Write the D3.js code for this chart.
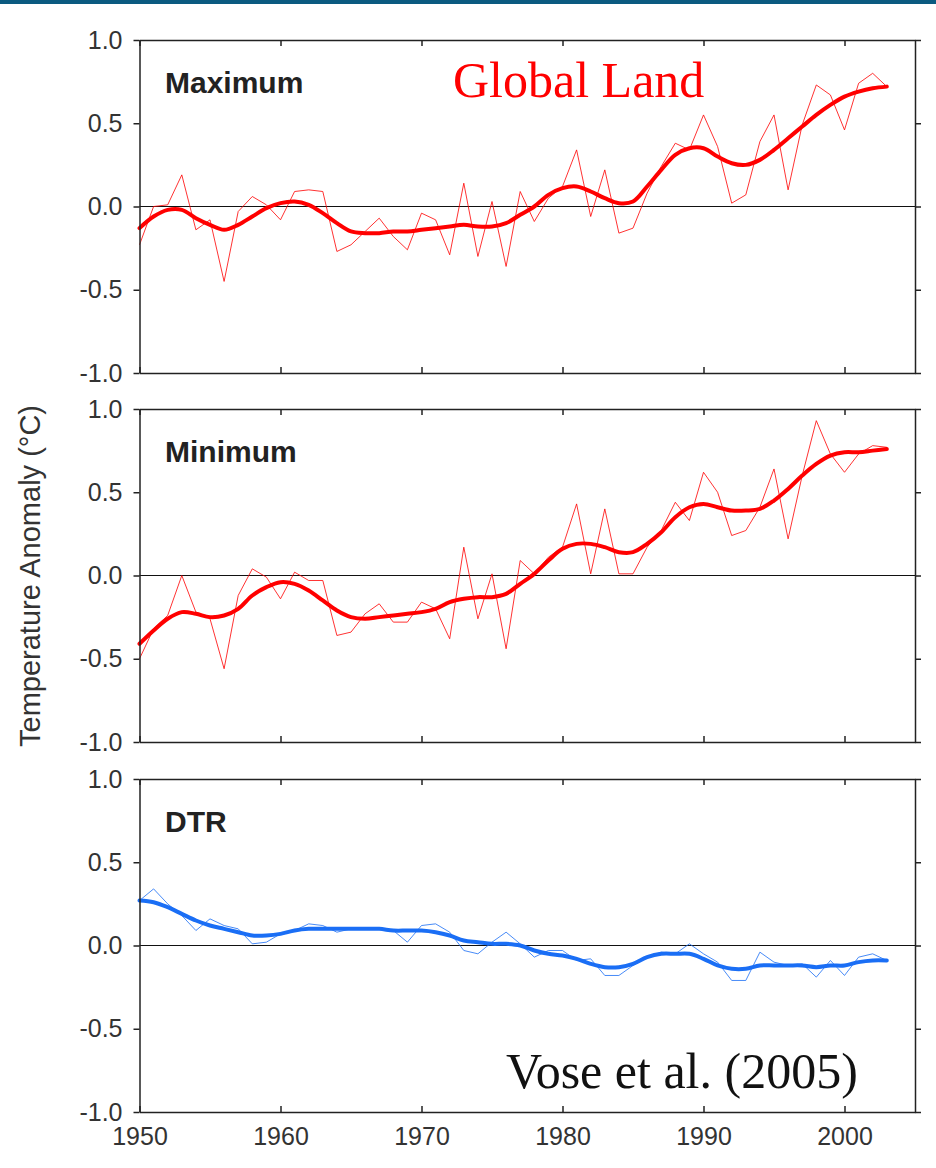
<!DOCTYPE html>
<html>
<head>
<meta charset="utf-8">
<script src="https://cdn.jsdelivr.net/npm/d3@7"></script>
<style>
  body { margin: 0; background: #fff; }
  svg { display: block; }
</style>
</head>
<body>
<div id="chart"></div>
<script>
// years 1950..2003
var years = d3.range(1950, 2004);

// Maximum temperature anomaly (annual + smoothed)
var maxAnnual = [-0.23, 0.00, 0.01, 0.19, -0.14, -0.08, -0.45, -0.03, 0.06, 0.01,
  -0.08, 0.09, 0.10, 0.09, -0.27, -0.23, -0.15, -0.07, -0.18, -0.26,
  -0.04, -0.08, -0.29, 0.14, -0.30, 0.03, -0.36, 0.09, -0.09, 0.05,
  0.12, 0.34, -0.06, 0.22, -0.16, -0.13, 0.08, 0.24, 0.38, 0.34,
  0.55, 0.36, 0.02, 0.07, 0.39, 0.55, 0.10, 0.49, 0.73, 0.67,
  0.46, 0.74, 0.80, 0.72];
var maxSmooth = [-0.13, -0.06, -0.02, -0.02, -0.07, -0.11, -0.14, -0.11, -0.06, -0.01,
  0.02, 0.03, 0.01, -0.04, -0.10, -0.15, -0.16, -0.16, -0.15, -0.15,
  -0.14, -0.13, -0.12, -0.11, -0.12, -0.12, -0.10, -0.05, 0.00, 0.07,
  0.11, 0.12, 0.09, 0.05, 0.02, 0.03, 0.12, 0.22, 0.31, 0.35,
  0.35, 0.30, 0.26, 0.25, 0.28, 0.34, 0.41, 0.48, 0.55, 0.61,
  0.66, 0.69, 0.71, 0.72];

// Minimum temperature anomaly
var minAnnual = [-0.50, -0.32, -0.24, 0.00, -0.22, -0.26, -0.56, -0.12, 0.04, -0.01,
  -0.14, 0.02, -0.03, -0.03, -0.36, -0.34, -0.23, -0.17, -0.28, -0.28,
  -0.16, -0.20, -0.38, 0.17, -0.26, 0.01, -0.44, 0.09, 0.01, 0.11,
  0.17, 0.43, 0.01, 0.40, 0.01, 0.01, 0.17, 0.27, 0.44, 0.33,
  0.62, 0.50, 0.24, 0.27, 0.41, 0.64, 0.22, 0.60, 0.93, 0.73,
  0.62, 0.73, 0.78, 0.77];
var minSmooth = [-0.41, -0.33, -0.26, -0.22, -0.23, -0.25, -0.24, -0.20, -0.12, -0.07,
  -0.04, -0.05, -0.09, -0.15, -0.21, -0.25, -0.26, -0.25, -0.24, -0.23,
  -0.22, -0.20, -0.16, -0.14, -0.13, -0.13, -0.11, -0.05, 0.01, 0.09,
  0.16, 0.19, 0.19, 0.17, 0.14, 0.14, 0.19, 0.26, 0.35, 0.41,
  0.43, 0.41, 0.39, 0.39, 0.40, 0.45, 0.52, 0.60, 0.67, 0.72,
  0.74, 0.74, 0.75, 0.76];

// Diurnal temperature range
var dtrAnnual = [0.27, 0.34, 0.25, 0.18, 0.09, 0.16, 0.12, 0.10, 0.01, 0.02,
  0.07, 0.09, 0.13, 0.12, 0.08, 0.10, 0.10, 0.10, 0.09, 0.02,
  0.12, 0.13, 0.08, -0.03, -0.05, 0.02, 0.08, 0.01, -0.07, -0.03,
  -0.03, -0.09, -0.08, -0.18, -0.18, -0.12, -0.07, -0.04, -0.05, 0.01,
  -0.05, -0.10, -0.21, -0.21, -0.04, -0.10, -0.12, -0.11, -0.19, -0.09,
  -0.18, -0.07, -0.05, -0.09];
var dtrSmooth = [0.27, 0.26, 0.23, 0.19, 0.15, 0.12, 0.10, 0.08, 0.06, 0.06,
  0.07, 0.09, 0.10, 0.10, 0.10, 0.10, 0.10, 0.10, 0.09, 0.09,
  0.09, 0.08, 0.06, 0.03, 0.02, 0.01, 0.01, 0.00, -0.03, -0.05,
  -0.06, -0.08, -0.11, -0.13, -0.13, -0.11, -0.07, -0.05, -0.05, -0.05,
  -0.08, -0.12, -0.14, -0.14, -0.12, -0.12, -0.12, -0.12, -0.13, -0.12,
  -0.12, -0.10, -0.09, -0.09];

var yTicks = [-1.0, -0.5, 0.0, 0.5, 1.0];
var xTicks = [1950, 1960, 1970, 1980, 1990, 2000];

var W = 936, H = 1168;
var panelH = 333;

var svg = d3.select("#chart").append("svg")
  .attr("width", W).attr("height", H);

// thin bar at the very top
svg.append("rect").attr("x", 0).attr("y", 0).attr("width", W).attr("height", 4)
  .attr("fill", "#0b5a80");

var x = d3.scaleLinear().domain([1950, 2005]).range([139.5, 915]);

var panels = [
  {name: "Maximum", top: 40, annual: maxAnnual, smooth: maxSmooth, color: "#ff0000"},
  {name: "Minimum", top: 409, annual: minAnnual, smooth: minSmooth, color: "#ff0000"},
  {name: "DTR", top: 779, annual: dtrAnnual, smooth: dtrSmooth, color: "#1a6ef5"}
];

var fmt = function(d) { return d3.format(".1f")(d).replace("\u2212", "-"); };

panels.forEach(function(p, pi) {
  var y = d3.scaleLinear().domain([-1, 1]).range([p.top + panelH, p.top]);
  var g = svg.append("g");

  // zero line
  g.append("line")
    .attr("x1", x.range()[0]).attr("x2", x.range()[1])
    .attr("y1", y(0)).attr("y2", y(0))
    .attr("stroke", "#111").attr("stroke-width", 1.2);

  var lineA = d3.line().x((d, i) => x(years[i])).y(d => y(d));
  var lineS = d3.line().x((d, i) => x(years[i])).y(d => y(d)).curve(d3.curveCatmullRom);

  g.append("path").datum(p.annual)
    .attr("d", lineA).attr("fill", "none")
    .attr("stroke", p.color).attr("stroke-width", 1).attr("opacity", 0.8);
  g.append("path").datum(p.smooth)
    .attr("d", lineS).attr("fill", "none")
    .attr("stroke", p.color).attr("stroke-width", 4)
    .attr("stroke-linejoin", "round").attr("stroke-linecap", "round");

  // axes (frame)
  g.append("g").attr("class", "axis")
    .attr("transform", "translate(" + x.range()[0] + ",0)")
    .call(d3.axisLeft(y).tickValues(yTicks).tickFormat(fmt).tickSizeInner(6).tickSizeOuter(0).tickPadding(11));
  g.append("g").attr("class", "axis")
    .attr("transform", "translate(" + x.range()[1] + ",0)")
    .call(d3.axisRight(y).tickValues(yTicks).tickFormat("").tickSizeInner(6).tickSizeOuter(0));
  g.append("g").attr("class", "axis")
    .attr("transform", "translate(0," + p.top + ")")
    .call(d3.axisTop(x).tickValues(xTicks).tickFormat("").tickSizeInner(-6).tickSizeOuter(0));
  g.append("g").attr("class", "axis")
    .attr("transform", "translate(0," + (p.top + panelH) + ")")
    .call(d3.axisBottom(x).tickValues(xTicks).tickSizeInner(-6).tickSizeOuter(0).tickPadding(15)
      .tickFormat(pi == 2 ? d3.format("d") : ""));

  g.selectAll(".axis path").attr("stroke", "#222").attr("stroke-width", 1.5);
  g.selectAll(".axis line").attr("stroke", "#222").attr("stroke-width", 1.5);
  g.selectAll(".axis text")
    .attr("fill", "#333")
    .style("font-family", "'Liberation Sans', Arial, sans-serif")
    .style("font-size", "25px");

  // panel label
  g.append("text")
    .attr("x", 165).attr("y", p.top + 53)
    .attr("fill", "#222")
    .style("font-family", "'Liberation Sans', Arial, sans-serif")
    .style("font-weight", "bold")
    .style("font-size", "30px")
    .text(p.name);
});

// y axis title
svg.append("text")
  .attr("transform", "translate(40,576) rotate(-90)")
  .attr("text-anchor", "middle")
  .attr("fill", "#333")
  .style("font-family", "'Liberation Sans', Arial, sans-serif")
  .style("font-size", "29px")
  .text("Temperature Anomaly (\u00B0C)");

// annotations
svg.append("text")
  .attr("x", 453).attr("y", 97)
  .attr("fill", "#ff0000")
  .style("font-family", "'Liberation Serif', 'Times New Roman', serif")
  .style("font-size", "50px")
  .text("Global Land");

svg.append("text")
  .attr("x", 506).attr("y", 1088)
  .attr("fill", "#111")
  .style("font-family", "'Liberation Serif', 'Times New Roman', serif")
  .style("font-size", "50px")
  .text("Vose et al. (2005)");
</script>
</body>
</html>
